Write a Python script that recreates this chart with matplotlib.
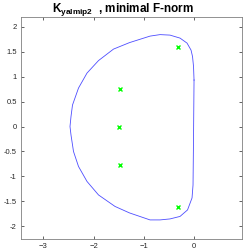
import numpy as np
import matplotlib
matplotlib.use("Agg")
import matplotlib.pyplot as plt

plt.rcParams["font.family"] = ["Liberation Sans", "DejaVu Sans"]
plt.rcParams["mathtext.fontset"] = "custom"
plt.rcParams["mathtext.rm"] = "Liberation Sans"
plt.rcParams["mathtext.bf"] = "Liberation Sans:bold"

# -- Data ----------------------------------------------------------------------

# boundary curve (closed), traced counter-clockwise from the right edge
curve_x = [0.01, 0.0, -0.02, -0.05, -0.13, -0.27, -0.47, -0.67, -0.87, -1.28,
           -1.6, -1.9, -2.13, -2.3, -2.42, -2.45, -2.47, -2.45, -2.4, -2.3,
           -2.13, -1.9, -1.57, -1.28, -0.87, -0.67, -0.47, -0.27, -0.12, -0.03,
           -0.01, 0.0, 0.01]
curve_y = [0.93, 1.2, 1.4, 1.53, 1.67, 1.77, 1.83, 1.84, 1.81, 1.68,
           1.55, 1.32, 1.07, 0.77, 0.43, 0.2, 0.0, -0.17, -0.5, -0.8,
           -1.1, -1.37, -1.6, -1.73, -1.87, -1.87, -1.85, -1.8, -1.67, -1.43,
           -1.17, -0.2, 0.93]

# eigenvalues (green crosses)
eig_re = [-0.31, -1.47, -1.49, -1.47, -0.31]
eig_im = [1.59, 0.76, 0.0, -0.77, -1.61]

x_ticks = [-3, -2, -1, 0]
y_ticks = [-2, -1.5, -1, -0.5, 0, 0.5, 1, 1.5, 2]
y_ticklabels = ["-2", "-1.5", "-1", "-0.5", "0", "0.5", "1", "1.5", "2"]

# -- Plot ----------------------------------------------------------------------

fig = plt.figure(figsize=(2.44, 2.52), dpi=100)
ax = fig.add_axes([0.086, 0.052, 0.906, 0.882])

ax.plot(curve_x, curve_y, color=(0.3, 0.3, 1.0), linewidth=0.6)
ax.plot(eig_re, eig_im, linestyle="none", marker="x", color=(0, 1, 0),
        markersize=3.5, markeredgewidth=1.0)

ax.set_xlim(-3.45, 0.97)
ax.set_ylim(-2.25, 2.2)
ax.set_xticks(x_ticks)
ax.set_yticks(y_ticks)
ax.set_yticklabels(y_ticklabels)

gray = (0.15, 0.15, 0.15)
for s in ax.spines.values():
    s.set_color((0.5, 0.5, 0.5))
    s.set_linewidth(0.6)
ax.tick_params(direction="in", length=2.5, width=0.5, top=True, right=True,
               labelsize=5.5, colors=gray, pad=3)

ax.set_title(r"$\mathbf{K_{yalmip2}}$  , minimal F-norm", fontsize=8.5,
             fontweight="bold", pad=3.5, x=0.46)

fig.savefig("out.png", dpi=100)
